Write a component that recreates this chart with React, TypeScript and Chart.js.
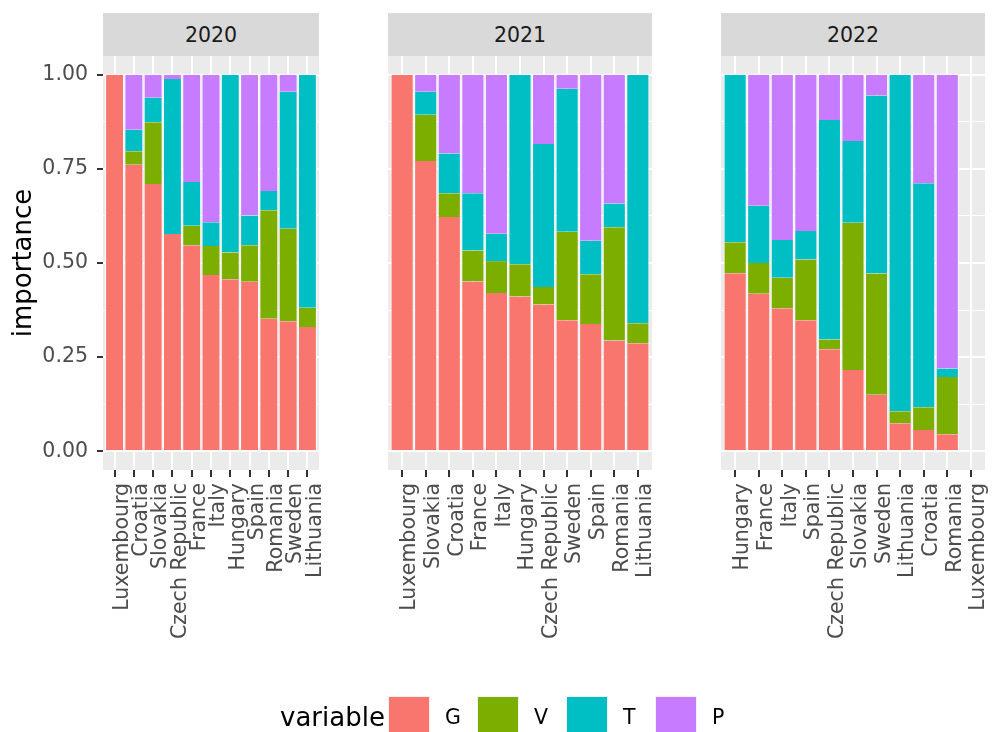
import React, { useEffect, useRef } from 'react';
import { Chart, registerables } from 'chart.js';

Chart.register(...registerables);

const FONT = "'DejaVu Sans', sans-serif";

// Series (stacked bottom to top) and their fill colours
const seriesNames = ['G', 'V', 'T', 'P'];
const seriesColors = ['#F8766D', '#7CAE00', '#00BFC4', '#C77CFF'];

// 2020
const countries2020 = ['Luxembourg', 'Croatia', 'Slovakia', 'Czech Republic', 'France', 'Italy', 'Hungary', 'Spain', 'Romania', 'Sweden', 'Lithuania'];
const g2020 = [1.0, 0.761, 0.71, 0.577, 0.547, 0.468, 0.457, 0.45, 0.352, 0.345, 0.33];
const v2020 = [0, 0.036, 0.164, 0, 0.052, 0.077, 0.071, 0.097, 0.288, 0.246, 0.051];
const t2020 = [0, 0.057, 0.065, 0.412, 0.116, 0.063, 0.472, 0.079, 0.051, 0.364, 0.619];
const p2020 = [0, 0.146, 0.061, 0.011, 0.285, 0.392, 0, 0.374, 0.309, 0.045, 0];

// 2021
const countries2021 = ['Luxembourg', 'Slovakia', 'Croatia', 'France', 'Italy', 'Hungary', 'Czech Republic', 'Sweden', 'Spain', 'Romania', 'Lithuania'];
const g2021 = [1.0, 0.771, 0.622, 0.451, 0.42, 0.411, 0.39, 0.348, 0.338, 0.294, 0.287];
const v2021 = [0, 0.123, 0.063, 0.082, 0.085, 0.086, 0.046, 0.235, 0.132, 0.301, 0.053];
const t2021 = [0, 0.061, 0.106, 0.152, 0.073, 0.503, 0.38, 0.38, 0.089, 0.063, 0.66];
const p2021 = [0, 0.045, 0.209, 0.315, 0.422, 0, 0.184, 0.037, 0.441, 0.342, 0];

// 2022
const countries2022 = ['Hungary', 'France', 'Italy', 'Spain', 'Czech Republic', 'Slovakia', 'Sweden', 'Lithuania', 'Croatia', 'Romania', 'Luxembourg'];
const g2022 = [0.473, 0.418, 0.38, 0.348, 0.271, 0.216, 0.15, 0.074, 0.056, 0.045, 0];
const v2022 = [0.082, 0.082, 0.081, 0.161, 0.026, 0.391, 0.322, 0.032, 0.061, 0.152, 0];
const t2022 = [0.445, 0.152, 0.1, 0.076, 0.583, 0.217, 0.473, 0.894, 0.595, 0.023, 0];
const p2022 = [0, 0.348, 0.439, 0.415, 0.12, 0.176, 0.055, 0, 0.288, 0.78, 0];

const yMajorTicks = [0, 0.25, 0.5, 0.75, 1];
const yMinorTicks = [0.125, 0.375, 0.625, 0.875];

const facets = [
  { year: '2020', countries: countries2020, values: [g2020, v2020, t2020, p2020] },
  { year: '2021', countries: countries2021, values: [g2021, v2021, t2021, p2021] },
  { year: '2022', countries: countries2022, values: [g2022, v2022, t2022, p2022] },
];

// Page layout (pixels)
const PANEL_X: [number, number][] = [[103, 319], [388, 652], [721, 985]];
const PANEL_TOP = 56;
const PANEL_BOTTOM = 470;
const STRIP_TOP = 13;
const Y_AXIS_W = 103;
const X_AXIS_H = 200;
const SIDE_PAD = 30;
const PAGE_H = 732;
const TICK_FONT = 20.5;
const TITLE_FONT = 26;

const panelBackground = {
  id: 'panelBackground',
  beforeDraw(chart: any) {
    const { ctx, chartArea } = chart;
    ctx.save();
    ctx.fillStyle = '#EBEBEB';
    ctx.fillRect(chartArea.left, chartArea.top, chartArea.right - chartArea.left, chartArea.bottom - chartArea.top);
    ctx.restore();
  },
};

type Facet = { year: string; countries: string[]; values: number[][] };

function FacetPanel({ facet, index }: { facet: Facet; index: number }) {
  const ref = useRef<HTMLCanvasElement | null>(null);
  const [pl, pr] = PANEL_X[index];
  const first = index === 0;
  const yW = first ? Y_AXIS_W : 0;
  const padLeft = first ? 0 : SIDE_PAD;
  const canvasLeft = pl - yW - padLeft;
  const canvasWidth = pr + SIDE_PAD - canvasLeft;

  useEffect(() => {
    if (!ref.current) return;
    const n = facet.countries.length;
    const datasets = seriesNames.map((name, j) => ({
      label: name,
      data: facet.countries.map((_, k) => ({ x: k + 1, y: facet.values[j][k] })),
      backgroundColor: seriesColors[j],
      borderColor: '#FFFFFF',
      borderWidth: { left: 1, right: 1, top: 0, bottom: 0 },
      borderSkipped: false,
      categoryPercentage: 1,
      barPercentage: 0.98,
    }));

    const chart = new Chart(ref.current, {
      type: 'bar',
      data: { datasets },
      plugins: [panelBackground],
      options: {
        animation: false,
        responsive: false,
        events: [],
        layout: {
          padding: {
            top: PANEL_TOP,
            left: padLeft,
            right: SIDE_PAD,
            bottom: PAGE_H - PANEL_BOTTOM - X_AXIS_H,
          },
        },
        plugins: { legend: { display: false }, tooltip: { enabled: false }, title: { display: false } },
        scales: {
          x: {
            type: 'linear',
            stacked: true,
            min: 0.4,
            max: n + 0.6,
            offset: false,
            border: { display: false },
            grid: {
              offset: false,
              color: '#FFFFFF',
              lineWidth: 2,
              drawTicks: true,
              tickLength: 7,
              tickWidth: 2,
              tickColor: '#333333',
            },
            afterBuildTicks: (scale: any) => {
              scale.ticks = facet.countries.map((_, k) => ({ value: k + 1 }));
            },
            afterFit: (scale: any) => {
              scale.height = X_AXIS_H;
            },
            ticks: {
              autoSkip: false,
              minRotation: 90,
              maxRotation: 90,
              labelOffset: 8,
              padding: 6,
              color: '#4D4D4D',
              font: { family: FONT, size: TICK_FONT },
              callback: (value: any) => facet.countries[Math.round(Number(value)) - 1] ?? '',
            },
          },
          y: {
            type: 'linear',
            stacked: true,
            min: -0.05,
            max: 1.05,
            border: { display: false },
            grid: {
              color: '#FFFFFF',
              lineWidth: (c: any) => (yMajorTicks.includes(c.tick?.value) ? 2 : 1),
              drawTicks: first,
              tickLength: 6,
              tickWidth: 2,
              tickColor: (c: any) => (yMajorTicks.includes(c.tick?.value) ? '#333333' : 'rgba(0,0,0,0)'),
            },
            afterBuildTicks: (scale: any) => {
              scale.ticks = [...yMajorTicks, ...yMinorTicks]
                .sort((a, b) => a - b)
                .map((v) => ({ value: v }));
            },
            afterFit: (scale: any) => {
              scale.width = yW;
            },
            ticks: {
              display: first,
              padding: 9,
              color: '#4D4D4D',
              font: { family: FONT, size: TICK_FONT },
              callback: (value: any) => (yMajorTicks.includes(Number(value)) ? Number(value).toFixed(2) : ''),
            },
            title: {
              display: first,
              text: 'importance',
              color: '#000000',
              font: { family: FONT, size: TITLE_FONT },
              padding: { top: 9, bottom: 0 },
            },
          },
        },
      },
    } as any);
    return () => chart.destroy();
  }, [facet, index]);

  return (
    <>
      <div
        style={{
          position: 'absolute',
          left: pl,
          top: STRIP_TOP,
          width: pr - pl,
          height: PANEL_TOP - STRIP_TOP,
          background: '#D9D9D9',
          color: '#1A1A1A',
          fontFamily: FONT,
          fontSize: TICK_FONT,
          display: 'flex',
          alignItems: 'center',
          justifyContent: 'center',
        }}
      >
        {facet.year}
      </div>
      <canvas
        ref={ref}
        width={canvasWidth}
        height={PAGE_H}
        style={{ position: 'absolute', left: canvasLeft, top: 0, width: canvasWidth, height: PAGE_H }}
      />
    </>
  );
}

function Legend() {
  return (
    <div
      style={{
        position: 'absolute',
        left: 280,
        top: 696,
        height: 42,
        display: 'flex',
        alignItems: 'center',
        fontFamily: FONT,
        color: '#000000',
        whiteSpace: 'nowrap',
      }}
    >
      <span style={{ fontSize: TITLE_FONT, marginRight: 3 }}>variable</span>
      {seriesNames.map((name, j) => (
        <React.Fragment key={name}>
          <span
            style={{
              display: 'inline-block',
              width: 42,
              height: 42,
              background: seriesColors[j],
              boxSizing: 'border-box',
              border: '1px solid #F2F2F2',
            }}
          />
          <span style={{ fontSize: TICK_FONT, marginLeft: 15, marginRight: 16, minWidth: 16 }}>{name}</span>
        </React.Fragment>
      ))}
    </div>
  );
}

export default function App() {
  return (
    <div
      style={{
        position: 'absolute',
        left: 0,
        top: 0,
        width: 1000,
        height: PAGE_H,
        overflow: 'hidden',
        background: '#FFFFFF',
      }}
    >
      {facets.map((f, i) => (
        <FacetPanel key={f.year} facet={f} index={i} />
      ))}
      <Legend />
    </div>
  );
}
